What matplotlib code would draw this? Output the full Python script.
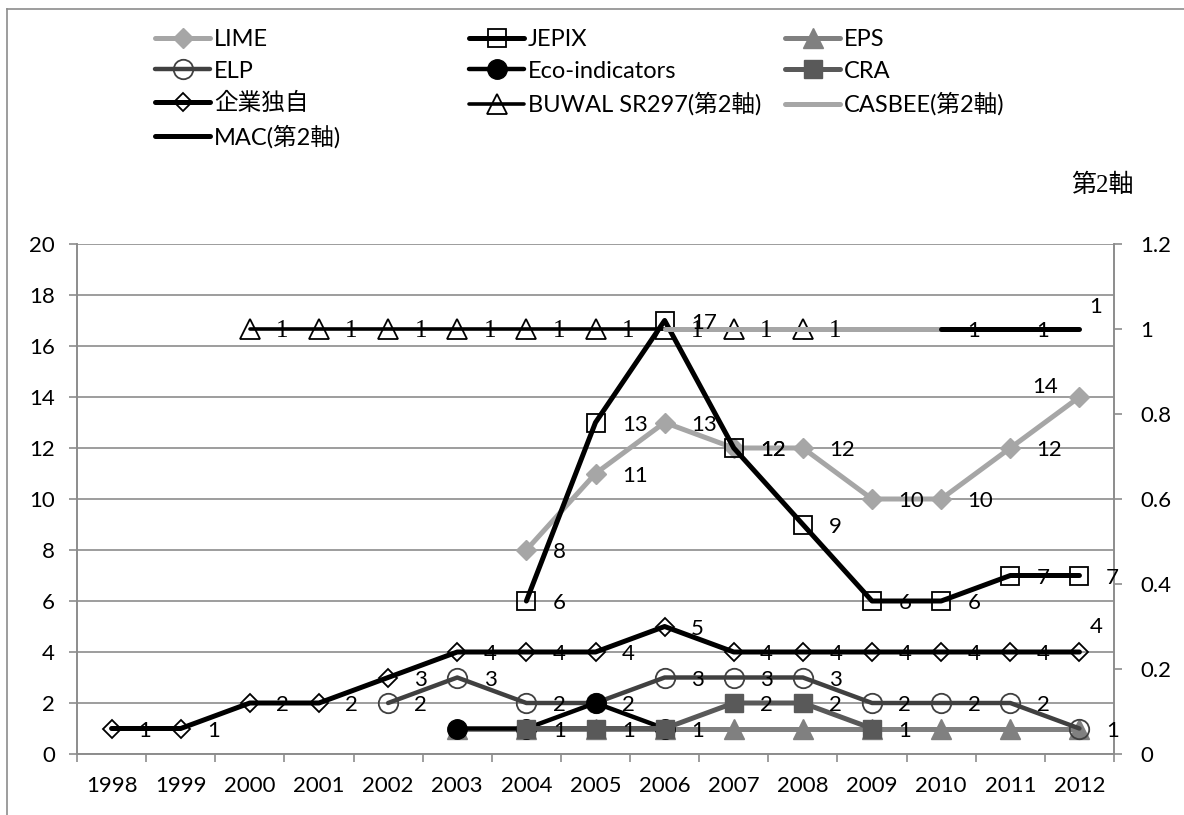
import numpy as np
import matplotlib
matplotlib.use('Agg')
import matplotlib.pyplot as plt
from matplotlib.lines import Line2D
from matplotlib.ticker import FuncFormatter

plt.rcParams['font.family'] = ['Lato', 'Noto Sans CJK JP', 'DejaVu Sans']
plt.rcParams['font.size'] = 16

nan = np.nan
years = [str(y) for y in range(1998, 2013)]

# 主軸
lime = [nan] * 6 + [8, 11, 13, 12, 12, 10, 10, 12, 14]
jepix = [nan] * 6 + [6, 13, 17, 12, 9, 6, 6, 7, 7]
eps = [nan] * 5 + [1] * 10
elp = [nan] * 4 + [2, 3, 2, 2, 3, 3, 3, 2, 2, 2, 1]
eco = [nan] * 5 + [1, 1, 2, 1] + [nan] * 6
cra = [nan] * 6 + [1, 1, 1, 2, 2, 1] + [nan] * 3
kigyo = [1, 1, 2, 2, 3, 4, 4, 4, 5, 4, 4, 4, 4, 4, 4]
# 第2軸
buwal = [nan] * 2 + [1] * 9 + [nan] * 4
casbee = [nan] * 8 + [1] * 5 + [nan] * 2
mac = [nan] * 12 + [1, 1, 1]

W, H = 1184, 815
GRID = '#8c8c8c'
LIGHT = '#a6a6a6'
MID = '#808080'
DARK = '#404040'
CRA_C = '#595959'

fig = plt.figure(figsize=(W / 100, H / 100), dpi=100)
ax = fig.add_axes([77 / W, 1 - 754 / H, (1114 - 77) / W, (754 - 244) / H])
ax2 = ax.twinx()

x = np.arange(len(years))
common = dict(solid_joinstyle='round', solid_capstyle='round')

l_lime, = ax.plot(x, lime, color=LIGHT, lw=3.6, marker='D', ms=10,
                  mfc=LIGHT, mec=LIGHT, label='LIME', **common)
l_jepix, = ax.plot(x, jepix, color='black', lw=3.6, marker='s', ms=13,
                   mfc='none', mec='black', mew=1.3, label='JEPIX', **common)
l_eps, = ax.plot(x, eps, color=MID, lw=3.6, marker='^', ms=14,
                 mfc=MID, mec=MID, label='EPS', **common)
l_elp, = ax.plot(x, elp, color=DARK, lw=3.2, marker='o', ms=14,
                 mfc='none', mec=DARK, mew=1.3, label='ELP', **common)
l_eco, = ax.plot(x, eco, color='black', lw=3.2, marker='o', ms=14,
                 mfc='black', mec='black', label='Eco-indicators', **common)
l_cra, = ax.plot(x, cra, color=CRA_C, lw=3.6, marker='s', ms=13,
                 mfc=CRA_C, mec=CRA_C, label='CRA', **common)
l_kigyo, = ax.plot(x, kigyo, color='black', lw=3.6, marker='D', ms=9,
                   mfc='none', mec='black', mew=1.3, label='企業独自', **common)

l_buwal, = ax2.plot(x, buwal, color='black', lw=2.6, marker='^', ms=14,
                    mfc='none', mec='black', mew=1.3,
                    label='BUWAL SR297(第2軸)', **common)
l_casbee, = ax2.plot(x, casbee, color=LIGHT, lw=3.6,
                     label='CASBEE(第2軸)', **common)
l_mac, = ax2.plot(x, mac, color='black', lw=3.6, label='MAC(第2軸)', **common)


def put_labels(axis, values, moved=None, **kw):
    # ラベルは常に第2軸側に描いて、全系列の上に重ねる
    moved = moved or {}
    for i, v in enumerate(values):
        if np.isnan(v):
            continue
        dx, dy = moved.get(i, (19, -1.5))
        ax2.annotate(f'{v:g}', (i, v), xycoords=axis.transData,
                     xytext=(dx, dy), textcoords='offset points',
                     ha='center' if i in moved else 'left', va='center',
                     zorder=10, annotation_clip=False, **kw)


put_labels(ax, lime, moved={14: (-25, 7)})
put_labels(ax, jepix)
put_labels(ax, elp)
put_labels(ax, cra)
put_labels(ax, kigyo, moved={14: (12, 18)})
put_labels(ax2, buwal, family=['Liberation Serif'], fontsize=18)
put_labels(ax2, mac, moved={14: (12, 16)})

# 軸
ax.set_xlim(-0.5, len(years) - 0.5)
ax.set_ylim(0, 20)
ax.set_yticks(range(0, 21, 2))
ax2.set_ylim(0, 1.2)
ax2.set_yticks(np.round(np.arange(0, 1.21, 0.2), 1))
ax2.yaxis.set_major_formatter(FuncFormatter(lambda v, p: f'{v:g}'))

ax.set_xticks(x)
ax.set_xticklabels(years)
ax.set_xticks(np.arange(-0.5, len(years), 1), minor=True)
ax.tick_params(axis='x', which='major', length=0, pad=16)
ax.tick_params(axis='x', which='minor', length=6, width=1.2, color=GRID)
ax.tick_params(axis='y', length=6, width=1.2, color=GRID, pad=10)
ax2.tick_params(axis='y', length=6, width=1.2, color=GRID, pad=13)

ax.yaxis.grid(True, color=GRID, lw=1.2)
ax.set_axisbelow(True)
for a in (ax, ax2):
    a.spines['top'].set_visible(False)
    for s in ('left', 'bottom', 'right'):
        a.spines[s].set_color(GRID)
        a.spines[s].set_linewidth(1.2)

fig.text(1102 / W, 1 - 185 / H, '第2軸', ha='center', va='center',
         fontsize=18, family=['Liberation Serif', 'Noto Sans CJK JP'])

# 凡例 (3列)
cols = [
    [l_lime, l_elp, l_kigyo, l_mac],
    [l_jepix, l_eco, l_buwal],
    [l_eps, l_cra, l_casbee],
]
for cx, handles in zip([155, 469, 785], cols):
    fig.legend(handles=handles, loc='upper left',
               bbox_to_anchor=(cx / W, 1 - 29 / H), frameon=False,
               borderpad=0, borderaxespad=0, handlelength=2.35,
               handletextpad=0.15, labelspacing=0.45, fontsize=17)

# グラフエリアの枠
fig.add_artist(Line2D([7 / W, 1], [1 - 9 / H, 1 - 9 / H],
                      transform=fig.transFigure, color=GRID, lw=1.2))
fig.add_artist(Line2D([7 / W, 7 / W], [0, 1 - 9 / H],
                      transform=fig.transFigure, color=GRID, lw=1.2))

fig.savefig('out.png', dpi=100, facecolor='white')
